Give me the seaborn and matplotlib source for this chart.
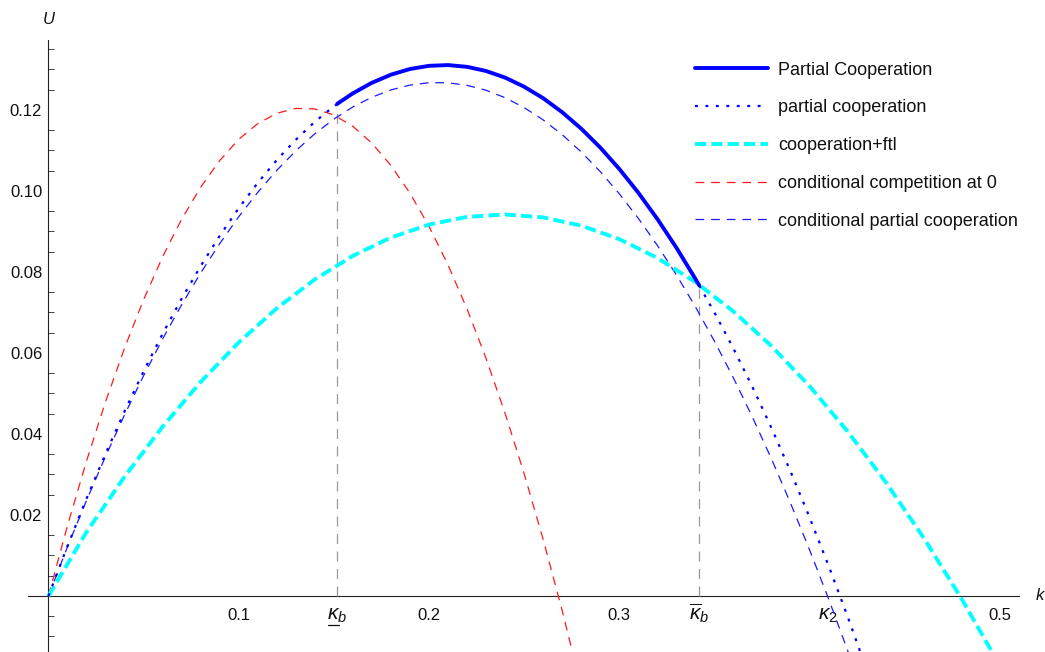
import matplotlib
matplotlib.use("Agg")
import matplotlib.pyplot as plt
import seaborn as sns
from matplotlib.lines import Line2D
from matplotlib.mathtext import MathTextParser

# ---------------- data ----------------
# partial cooperation (dotted, whole range)
pc_k = [0.00, 0.01, 0.02, 0.03, 0.04, 0.05, 0.06, 0.07, 0.08, 0.09,
        0.10, 0.11, 0.12, 0.13, 0.14, 0.15, 0.16, 0.17, 0.18, 0.19,
        0.20, 0.21, 0.22, 0.23, 0.24, 0.25, 0.26, 0.27, 0.28, 0.29,
        0.30, 0.31, 0.32, 0.33, 0.34, 0.35, 0.36, 0.37, 0.38, 0.39,
        0.40, 0.41, 0.42, 0.43]
pc_u = [0.0, 0.01230, 0.02400, 0.03509, 0.04557, 0.05545, 0.06473, 0.07339, 0.08145, 0.08891,
        0.09575, 0.10200, 0.10763, 0.11266, 0.11709, 0.12091, 0.12412, 0.12672, 0.12872, 0.13012,
        0.13091, 0.13109, 0.13066, 0.12963, 0.12800, 0.12575, 0.12291, 0.11945, 0.11539, 0.11072,
        0.10545, 0.09957, 0.09309, 0.08600, 0.07830, 0.07000, 0.06109, 0.05157, 0.04145, 0.03073,
        0.01939, 0.00745, -0.00509, -0.01824]

# Partial Cooperation (solid, between the two thresholds)
PC_k = [0.1518, 0.16, 0.17, 0.18, 0.19, 0.20, 0.21, 0.22, 0.23, 0.24, 0.25,
        0.26, 0.27, 0.28, 0.29, 0.30, 0.31, 0.32, 0.33, 0.34, 0.342]
PC_u = [0.12153, 0.12412, 0.12672, 0.12872, 0.13012, 0.13091, 0.13109, 0.13066, 0.12963, 0.12800, 0.12575,
        0.12291, 0.11945, 0.11539, 0.11072, 0.10545, 0.09957, 0.09309, 0.08600, 0.07830, 0.07669]

# cooperation+ftl
cf_k = [0.00, 0.02, 0.04, 0.06, 0.08, 0.10, 0.12, 0.14, 0.16, 0.18, 0.20, 0.22, 0.24,
        0.26, 0.28, 0.30, 0.32, 0.34, 0.36, 0.38, 0.40, 0.42, 0.44, 0.46, 0.48, 0.50]
cf_u = [0.0, 0.01576, 0.02944, 0.04180, 0.05285, 0.06260, 0.07104, 0.07817, 0.08399, 0.08851,
        0.09171, 0.09361, 0.09420, 0.09348, 0.09145, 0.08811, 0.08347, 0.07752, 0.07026, 0.06169,
        0.05181, 0.04062, 0.02813, 0.01433, -0.00079, -0.01721]

# conditional competition at 0
cc_k = [0.00, 0.01, 0.02, 0.03, 0.04, 0.05, 0.06, 0.07, 0.08, 0.09,
        0.10, 0.11, 0.12, 0.13, 0.14, 0.15, 0.16, 0.17, 0.18, 0.19,
        0.20, 0.21, 0.22, 0.23, 0.24, 0.25, 0.26, 0.27, 0.28]
cc_u = [0.0, 0.01731, 0.03328, 0.04791, 0.06120, 0.07314, 0.08375, 0.09301, 0.10093, 0.10751,
        0.11274, 0.11663, 0.11918, 0.12039, 0.12026, 0.11878, 0.11596, 0.11180, 0.10630, 0.09945,
        0.09127, 0.08174, 0.07087, 0.05865, 0.04509, 0.03020, 0.01395, -0.00363, -0.02256]

# conditional partial cooperation
cp_k = pc_k
cp_u = [0.0, 0.01209, 0.02357, 0.03444, 0.04471, 0.05438, 0.06344, 0.07190, 0.07975, 0.08699,
        0.09363, 0.09966, 0.10509, 0.10992, 0.11413, 0.11775, 0.12076, 0.12316, 0.12496, 0.12615,
        0.12674, 0.12672, 0.12609, 0.12487, 0.12303, 0.12059, 0.11755, 0.11390, 0.10964, 0.10478,
        0.09932, 0.09325, 0.08657, 0.07929, 0.07141, 0.06291, 0.05382, 0.04412, 0.03381, 0.02290,
        0.01138, -0.00074, -0.01347, -0.02681]

# thresholds and ticks
kappa_lo = 0.1518
kappa_hi = 0.3420
kappa_2 = 0.4094
x_ticks = [0.1, kappa_lo, 0.2, 0.3, kappa_hi, kappa_2, 0.5]
y_ticks = [0.02, 0.04, 0.06, 0.08, 0.10, 0.12]
y_tick_labels = ["0.02", "0.04", "0.06", "0.08", "0.10", "0.12"]
y_minor = [-0.010, -0.005, 0.005, 0.010, 0.015, 0.025, 0.030, 0.035, 0.045, 0.050, 0.055,
           0.065, 0.070, 0.075, 0.085, 0.090, 0.095, 0.105, 0.110, 0.115, 0.125, 0.130, 0.135]

labels = ["Partial Cooperation", "partial cooperation", "cooperation+ftl",
          "conditional competition at 0", "conditional partial cooperation"]

# ---------------- style ----------------
sns.set_theme(style="white")
plt.rcParams["font.family"] = ["Liberation Sans", "DejaVu Sans"]
plt.rcParams["mathtext.fontset"] = "custom"
plt.rcParams["mathtext.rm"] = "Liberation Sans"
plt.rcParams["mathtext.it"] = "Liberation Sans:italic"
plt.rcParams["mathtext.bf"] = "Liberation Sans:bold"

# underline support check (fallback draws a short bar)
under_ok = True
try:
    MathTextParser("path").parse(r"$\underline{\kappa}_b$", 72)
except Exception:
    under_ok = False
lo_label = r"$\underline{\kappa}_b$" if under_ok else r"$\kappa_b$"
x_tick_labels = ["0.1", lo_label, "0.2", "0.3", r"$\overline{\kappa}_b$", r"$\kappa_2$", "0.5"]

W, H = 1045, 652
fig = plt.figure(figsize=(W / 100, H / 100), dpi=100)
ax = fig.add_axes([0, 0, 1, 1])
ax.set_facecolor("white")

common = dict(ax=ax, estimator=None, sort=False)
sns.lineplot(x=cp_k, y=cp_u, color="#1a1aff", linewidth=0.9,
             linestyle=(0, (7, 5.5)), label=labels[4], zorder=3, **common)
sns.lineplot(x=cc_k, y=cc_u, color="#ff1a1a", linewidth=0.9,
             linestyle=(0, (7, 5.5)), label=labels[3], zorder=3, **common)
sns.lineplot(x=cf_k, y=cf_u, color="#00ffff", linewidth=2.8,
             linestyle=(0, (2.9, 1.3)), label=labels[2], zorder=4, **common)
sns.lineplot(x=pc_k, y=pc_u, color="#0000ff", linewidth=1.6,
             linestyle=(0, (1.3, 3.4)), label=labels[1], zorder=5, **common)
sns.lineplot(x=PC_k, y=PC_u, color="#0000ff", linewidth=2.8, linestyle="-",
             label=labels[0], zorder=6, solid_capstyle="round",
             solid_joinstyle="round", **common)

# threshold guide lines
ax.vlines([kappa_lo, kappa_hi], 0, [PC_u[0], PC_u[-1]], colors="#9a9a9a",
          linewidth=0.9, linestyles=(0, (8, 6)), zorder=2)

# axes through origin
xlim = (-0.02543, 0.52370)
ylim = (-0.01383, 0.14716)
ax.set_xlim(*xlim)
ax.set_ylim(*ylim)
for s in ["top", "right"]:
    ax.spines[s].set_visible(False)
ax.spines["left"].set_position(("data", 0))
ax.spines["bottom"].set_position(("data", 0))
ax.spines["left"].set_bounds(-0.0138, 0.1373)
ax.spines["bottom"].set_bounds(-0.0107, 0.510)
for s in ["left", "bottom"]:
    ax.spines[s].set_color("#222222")
    ax.spines[s].set_linewidth(0.8)
    ax.spines[s].set_zorder(1)

ax.set_xticks(x_ticks)
ax.set_xticklabels(x_tick_labels)
ax.set_yticks(y_ticks)
ax.set_yticklabels(y_tick_labels)
ax.set_yticks(y_minor, minor=True)
ax.tick_params(axis="x", which="major", direction="in", length=7, width=0.8,
               color="#444444", labelsize=12, pad=17.3, labelcolor="#111111")
ax.tick_params(axis="y", which="major", direction="in", length=6.8, width=0.8,
               color="#444444", labelsize=12, pad=4.5, labelcolor="#111111")
ax.tick_params(axis="y", which="minor", direction="in", length=4.2, width=0.7,
               color="#444444", left=True)
ax.grid(False)
for lab in ax.get_xticklabels():
    lab.set_verticalalignment("baseline")
    if "kappa" in lab.get_text():
        lab.set_fontsize(15)

if not under_ok:
    px_x = (xlim[1] - xlim[0]) / W
    px_y = (ylim[1] - ylim[0]) / H
    ax.add_line(Line2D([kappa_lo - 9.5 * px_x, kappa_lo + 1.5 * px_x],
                       [-29 * px_y, -29 * px_y], color="#111111", linewidth=0.9,
                       clip_on=False))

ax.text(0.0, 0.1424, "U", style="italic", fontsize=12, ha="center", va="center", color="#111111")
ax.text(0.5211, 0.0, "k", style="italic", fontsize=12, ha="center", va="center", color="#111111")

h, l = ax.get_legend_handles_labels()
order = [l.index(name) for name in labels]
leg = ax.legend([h[i] for i in order], [l[i] for i in order], loc="upper left",
                bbox_to_anchor=(0.6651, 0.9054), bbox_transform=fig.transFigure,
                frameon=False, borderpad=0, borderaxespad=0, fontsize=13,
                handlelength=4.04, handletextpad=0.55, labelspacing=1.15)
for t in leg.get_texts():
    t.set_color("#111111")

fig.savefig("out.png", dpi=100)
